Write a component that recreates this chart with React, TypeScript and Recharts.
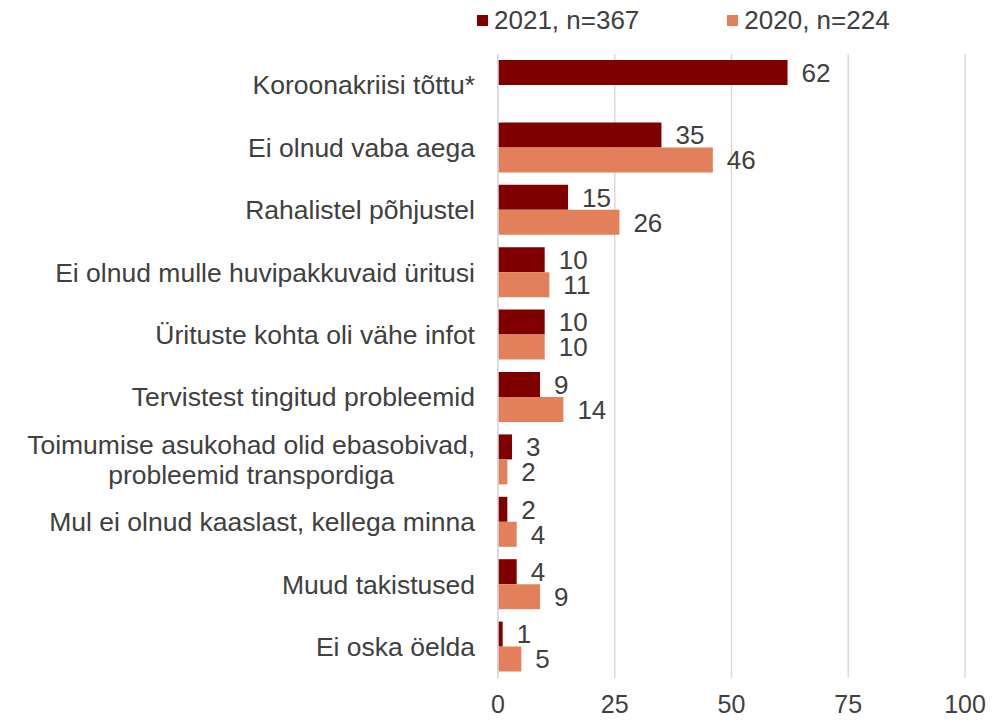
import { BarChart, Bar, XAxis, YAxis, CartesianGrid, LabelList } from 'recharts';

const categories = [
    'Koroonakriisi tõttu*',
    'Ei olnud vaba aega',
    'Rahalistel põhjustel',
    'Ei olnud mulle huvipakkuvaid üritusi',
    'Ürituste kohta oli vähe infot',
    'Tervistest tingitud probleemid',
    'Toimumise asukohad olid ebasobivad,\nprobleemid transpordiga',
    'Mul ei olnud kaaslast, kellega minna',
    'Muud takistused',
    'Ei oska öelda',
];
const values2021 = [62, 35, 15, 10, 10, 9, 3, 2, 4, 1];
const values2020 = [null, 46, 26, 11, 10, 14, 2, 4, 9, 5];
const xTicks = [0, 25, 50, 75, 100];

const series = [
    { key: 'y2021', name: '2021, n=367', color: '#800000' },
    { key: 'y2020', name: '2020, n=224', color: '#E2805C' },
];

const data = categories.map((c, i) => ({
    kategooria: c,
    y2021: values2021[i],
    y2020: values2020[i],
}));

const FONT = '"Liberation Sans", Arial, sans-serif';
const TEXT = '#404040';
const CAT_SIZE = 26.5;

let ctx: CanvasRenderingContext2D | null = null;
const measure = (s: string, size: number) => {
    if (!ctx) ctx = document.createElement('canvas').getContext('2d');
    if (!ctx) return s.length * size * 0.5;
    ctx.font = `${size}px "Liberation Sans"`;
    return ctx.measureText(s).width;
};

const CategoryTick = (props: any) => {
    const { x, y, payload } = props;
    const lines = String(payload.value).split('\n');
    if (lines.length === 1) {
        return (
            <text x={x} y={y} dy="0.35em" textAnchor="end" fill={TEXT} fontSize={CAT_SIZE} fontFamily={FONT}>
                {lines[0]}
            </text>
        );
    }
    const w = Math.max(...lines.map((l) => measure(l, CAT_SIZE)));
    const cx = x - w / 2;
    const lh = 30;
    const start = y - ((lines.length - 1) * lh) / 2;
    return (
        <text textAnchor="middle" fill={TEXT} fontSize={CAT_SIZE} fontFamily={FONT}>
            {lines.map((l, i) => (
                <tspan key={i} x={cx} y={start + i * lh} dy="0.35em">
                    {l}
                </tspan>
            ))}
        </text>
    );
};

const LegendBox = () => (
    <div
        style={{
            position: 'absolute',
            left: 477,
            top: 5,
            display: 'flex',
            fontFamily: FONT,
            fontSize: 26,
            color: TEXT,
        }}
    >
        {series.map((s) => (
            <div key={s.key} style={{ display: 'flex', alignItems: 'center', marginRight: 88 }}>
                <span style={{ width: 11, height: 11, background: s.color, display: 'inline-block', marginRight: 6 }} />
                <span>{s.name}</span>
            </div>
        ))}
    </div>
);

const App = () => {
    return (
        <div style={{ position: 'absolute', left: 0, top: 0, width: 995, height: 724, background: '#fff' }}>
            <BarChart
                width={995}
                height={724}
                data={data}
                layout="vertical"
                barSize={25}
                barGap={0}
                margin={{ top: 54, right: 30, left: 0, bottom: 0 }}
            >
                <CartesianGrid horizontal={false} stroke="#d9d9d9" strokeWidth={1.5} />
                <XAxis
                    type="number"
                    domain={[0, 100]}
                    ticks={xTicks}
                    height={46}
                    axisLine={false}
                    tickLine={false}
                    tickMargin={11}
                    tick={{ fill: TEXT, fontSize: 25, fontFamily: FONT }}
                />
                <YAxis
                    type="category"
                    dataKey="kategooria"
                    width={498}
                    axisLine={{ stroke: '#d9d9d9', strokeWidth: 1.5 }}
                    tickLine={false}
                    tickMargin={17}
                    tick={<CategoryTick />}
                    interval={0}
                />
                {series.map((s) => (
                    <Bar key={s.key} dataKey={s.key} name={s.name} fill={s.color} isAnimationActive={false}>
                        <LabelList
                            dataKey={s.key}
                            position="right"
                            offset={14}
                            fill={TEXT}
                            fontSize={26}
                            fontFamily={FONT}
                            formatter={(v: any) => (v == null ? '' : v)}
                        />
                    </Bar>
                ))}
            </BarChart>
            <LegendBox />
        </div>
    );
};

export default App;
